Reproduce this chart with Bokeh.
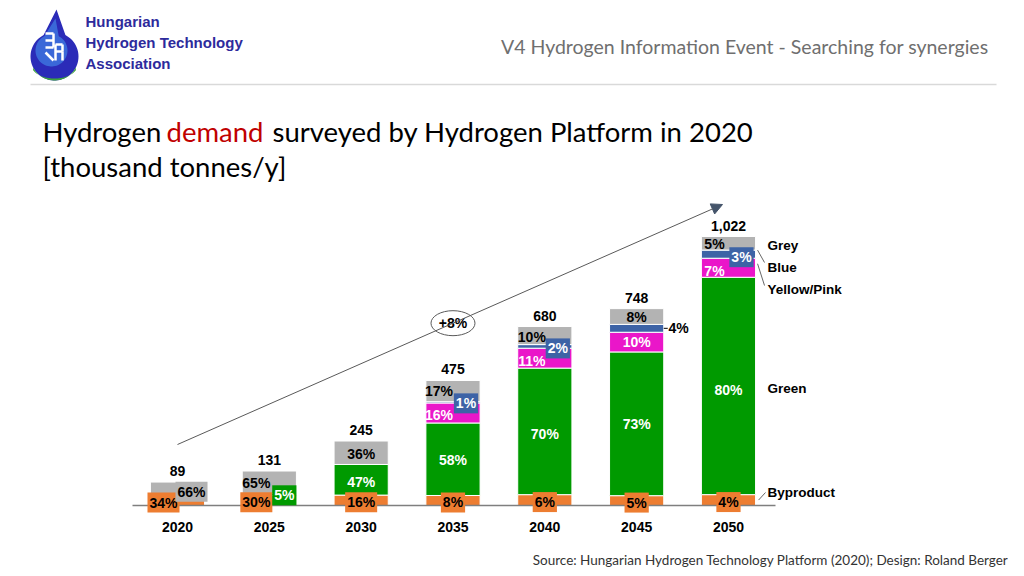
import numpy as np
from bokeh.plotting import figure
from bokeh.models import Range1d, Arrow, NormalHead
from bokeh.core.properties import value
from bokeh.embed import file_html
from bokeh.resources import INLINE

# ---------------- data ----------------
years = ["2020", "2025", "2030", "2035", "2040", "2045", "2050"]
totals = [89, 131, 245, 475, 680, 748, 1022]
total_labels = ["89", "131", "245", "475", "680", "748", "1,022"]
byproduct_pct = [34, 30, 16, 8, 6, 5, 4]
green_pct = [0, 5, 47, 58, 70, 73, 80]
pink_pct = [0, 0, 0, 16, 11, 10, 7]
blue_pct = [0, 0, 0, 1, 2, 4, 3]
grey_pct = [66, 65, 36, 17, 10, 8, 5]
growth_label = "+8%"
legend_labels = ["Grey", "Blue", "Yellow/Pink", "Green", "Byproduct"]

# ---------------- style ----------------
C_GREY = "#b3b3b3"
C_BLUE = "#3d63a6"
C_PINK = "#ea16c9"
C_GREEN = "#009a00"
C_ORANGE = "#ed7d31"
ARIAL = "Liberation Sans"
CAL = "Lato"

W, H = 1008, 568
OFF = 0
X0, XS = 177.0, 91.83      # px of first category, px per category
Y0, YS = 505.0, 0.2632     # baseline px, px per thousand tonnes


def X(px):
    return (px - X0) / XS


def Y(py):
    return (Y0 - py) / YS


p = figure(width=W, height=H, output_backend="svg", toolbar_location=None,
           x_range=Range1d(X(OFF), X(OFF + W)), y_range=Range1d(Y(OFF + H), Y(OFF)),
           min_border=0)
p.axis.visible = False
p.grid.visible = False
p.outline_line_color = None
p.background_fill_color = "white"
p.border_fill_color = "white"

# ---------------- stacks ----------------
series = [("byproduct", byproduct_pct, C_ORANGE), ("green", green_pct, C_GREEN),
          ("pink", pink_pct, C_PINK), ("blue", blue_pct, C_BLUE), ("grey", grey_pct, C_GREY)]
xs = np.arange(len(years))
sums = np.array([sum(s[1][i] for s in series) for i in range(len(years))], dtype=float)
bottom = np.zeros(len(years))
seg = {}
BW = 0.59
for name, pcts, col in series:
    vals = np.array(totals) * np.array(pcts) / sums
    top = bottom + vals
    seg[name] = (bottom.copy(), top.copy())
    p.vbar(x=xs, bottom=bottom, top=top, width=BW, fill_color=col,
           line_color="white", line_width=1)
    bottom = top

# baseline
p.segment(x0=[X(132)], y0=[0], x1=[X(775)], y1=[0], line_color="#7f7f7f", line_width=1.5)

# ---------------- arrow & growth bubble ----------------
ax0, ay0, ax1, ay1 = X(177), Y(444), X(722), Y(204)
p.add_layout(Arrow(end=NormalHead(size=11, fill_color="#44546a", line_color="#44546a"),
                   x_start=ax0, y_start=ay0, x_end=ax1, y_end=ay1,
                   line_color="#595959", line_width=1))
bx = 3.0
by = ay0 + (ay1 - ay0) * (bx - ax0) / (ax1 - ax0)
p.ellipse(x=[bx], y=[by], width=44, height=25, width_units="screen", height_units="screen",
          fill_color="white", line_color="#595959", line_width=1)
p.text(x=[bx], y=[by], text=[growth_label], text_font=value(ARIAL), text_font_style="bold",
       text_font_size="14px", text_align="center", text_baseline="middle", text_color="black")

# ---------------- labels ----------------
# (year index, series) -> (dx px, dy px, text color, box color)
lab_style = {
    (0, "grey"): (14, 2, "black", C_GREY), (0, "byproduct"): (-14, 1, "black", C_ORANGE),
    (1, "grey"): (-13, 1, "black", None), (1, "green"): (15, 1, "white", C_GREEN),
    (1, "byproduct"): (-13, 2, "black", C_ORANGE),
    (2, "grey"): (0, 1, "black", None), (2, "green"): (0, 2, "white", None),
    (2, "byproduct"): (0, 2, "black", C_ORANGE),
    (3, "grey"): (-14, 0, "black", None), (3, "blue"): (13, 1, "white", C_BLUE),
    (3, "pink"): (-14, 2, "white", None), (3, "green"): (0, 1, "white", None),
    (3, "byproduct"): (0, 2, "black", C_ORANGE),
    (4, "grey"): (-13, 1, "black", None), (4, "blue"): (13, 2, "white", C_BLUE),
    (4, "pink"): (-13, 3, "white", None), (4, "green"): (0, 3, "white", None),
    (4, "byproduct"): (0, 2, "black", C_ORANGE),
    (5, "grey"): (0, 0, "black", None), (5, "blue"): (42, 0, "black", None),
    (5, "pink"): (0, 0, "white", None), (5, "green"): (0, 0, "white", None),
    (5, "byproduct"): (0, 2, "black", C_ORANGE),
    (6, "grey"): (-14, 1, "black", None), (6, "blue"): (13, 3, "white", C_BLUE),
    (6, "pink"): (-14, 3, "white", None), (6, "green"): (0, 4, "white", None),
    (6, "byproduct"): (0, 2, "black", C_ORANGE),
}

groups = {}
for name, pcts, col in series:
    b, t = seg[name]
    for i in range(len(years)):
        if pcts[i] <= 0:
            continue
        dx, dy, tc, box = lab_style[(i, name)]
        mid = (b[i] + t[i]) / 2
        key = (tc, box)
        g = groups.setdefault(key, {"x": [], "y": [], "t": []})
        g["x"].append(xs[i] + dx / XS)
        g["y"].append(mid - dy / YS)
        g["t"].append(f"{pcts[i]}%")

for (tc, box), g in groups.items():
    kw = dict(text_font=value(ARIAL), text_font_style="bold", text_font_size="14px",
              text_align="center", text_baseline="middle", text_color=tc)
    if box is not None:
        kw.update(background_fill_color=box, padding=2)
    p.text(x=g["x"], y=g["y"], text=g["t"], **kw)

# totals
p.text(x=xs, y=np.array(totals) + 6 / YS, text=total_labels, text_font=value(ARIAL),
       text_font_style="bold", text_font_size="14px", text_align="center",
       text_baseline="bottom", text_color="black")

# years
p.text(x=xs, y=[Y(526)] * len(years), text=years, text_font=value(ARIAL),
       text_font_style="bold", text_font_size="14px", text_align="center",
       text_baseline="middle", text_color="black")

# leader for 4% (2045 blue)
b5, t5 = seg["blue"]
p.segment(x0=[5 + BW / 2], y0=[(b5[5] + t5[5]) / 2], x1=[5 + BW / 2 + 4 / XS],
          y1=[(b5[5] + t5[5]) / 2], line_color="black", line_width=1)

# legend on the right
leg_y = [245, 267, 289, 388, 492]
p.text(x=[X(767)] * 5, y=[Y(v) for v in leg_y], text=legend_labels, text_font=value(ARIAL),
       text_font_style="bold", text_font_size="13.5px", text_align="left",
       text_baseline="middle", text_color="black")
bb, tb = seg["blue"]
bp, tp = seg["pink"]
bo, to = seg["byproduct"]
p.segment(x0=[6 + BW / 2 + 2 / XS, 6 + BW / 2 + 2 / XS, 6 + BW / 2 + 3 / XS],
          y0=[tb[6], (bp[6] + tp[6]) / 2 + 4 / YS, (bo[6] + to[6]) / 2],
          x1=[X(764), X(764), X(765)], y1=[Y(262), Y(285), Y(492)],
          line_color="#404040", line_width=0.8)

# ---------------- header ----------------
# logo drop
th = np.linspace(-0.35 * np.pi, 1.35 * np.pi, 60)
cx, cy, r = 54.0, 56.0, 24.0
lx = np.concatenate([[56.0], cx + r * np.cos(th), [56.0]])
ly = np.concatenate([[9.0], cy + r * np.sin(th), [9.0]])
p.patch(x=[X(v) for v in lx], y=[Y(v) for v in ly], fill_color="#2b2bb8", line_color=None)
lx2 = np.concatenate([[55.0], cx + 16 * np.cos(th) - 3, [55.0]])
ly2 = np.concatenate([[18.0], cy - 6 + 16 * np.sin(th), [18.0]])
p.patch(x=[X(v) for v in lx2], y=[Y(v) for v in ly2], fill_color="#3f78e0", line_color=None,
        fill_alpha=0.8)
gth = np.linspace(0.15 * np.pi, 0.85 * np.pi, 30)
gx = np.concatenate([cx + r * np.cos(gth), (cx + r * np.cos(gth))[::-1]])
gy = np.concatenate([cy + r * np.sin(gth), (cy + 5 + (r - 9) * np.sin(gth))[::-1] + 2])
p.patch(x=[X(v) for v in gx], y=[Y(v) for v in gy], fill_color="#3ea33e", line_color=None)
# white stylised glyph strokes inside the drop
gl_x0 = [45, 45, 53, 45, 55, 55, 62, 55, 62]
gl_y0 = [33, 47, 33, 40, 44, 44, 44, 51, 51]
gl_x1 = [53, 53, 53, 53, 55, 62, 62, 62, 62]
gl_y1 = [33, 47, 47, 40, 60, 44, 51, 51, 60]
p.segment(x0=[X(v) for v in gl_x0], y0=[Y(v) for v in gl_y0],
          x1=[X(v) for v in gl_x1], y1=[Y(v) for v in gl_y1],
          line_color="white", line_width=2.5)
p.segment(x0=[X(45)], y0=[Y(52)], x1=[X(53)], y1=[Y(60)], line_color="white", line_width=2.5)

hdr = ["Hungarian", "Hydrogen Technology", "Association"]
p.text(x=[X(85)] * 3, y=[Y(21), Y(42), Y(63)], text=hdr,
       text_font=value(ARIAL), text_font_style="bold",
       text_font_size="15px", text_align="left", text_baseline="middle", text_color="#2d2a9c")

p.text(x=[X(988)], y=[Y(46)], text=["V4 Hydrogen Information Event - Searching for synergies"],
       text_font=value(CAL), text_font_size="19.5px", text_align="right",
       text_baseline="middle", text_color="#6f6f6f")
p.segment(x0=[X(30)], y0=[Y(84)], x1=[X(996)], y1=[Y(84)], line_color="#d9d9d9", line_width=1.5)

# title
TS = "27.5px"
p.text(x=[X(42)], y=[Y(131)], text=["Hydrogen"], text_font=value(CAL), text_font_size=TS,
       text_align="left", text_baseline="middle", text_color="black")
p.text(x=[X(166)], y=[Y(131)], text=["demand"], text_font=value(CAL), text_font_size=TS,
       text_align="left", text_baseline="middle", text_color="#c00000")
p.text(x=[X(272)], y=[Y(131)], text=["surveyed by Hydrogen Platform in 2020"],
       text_font=value(CAL), text_font_size=TS,
       text_align="left", text_baseline="middle", text_color="black")
p.text(x=[X(42)], y=[Y(166)], text=["[thousand tonnes/y]"], text_font=value(CAL),
       text_font_size=TS, text_align="left", text_baseline="middle", text_color="black")

# source
p.text(x=[X(1008)], y=[Y(559)],
       text=["Source: Hungarian Hydrogen Technology Platform (2020); Design: Roland Berger"],
       text_font=value(CAL), text_font_size="13.5px", text_align="right",
       text_baseline="middle", text_color="#333333")

open("out.html", "w").write(file_html(p, INLINE))
